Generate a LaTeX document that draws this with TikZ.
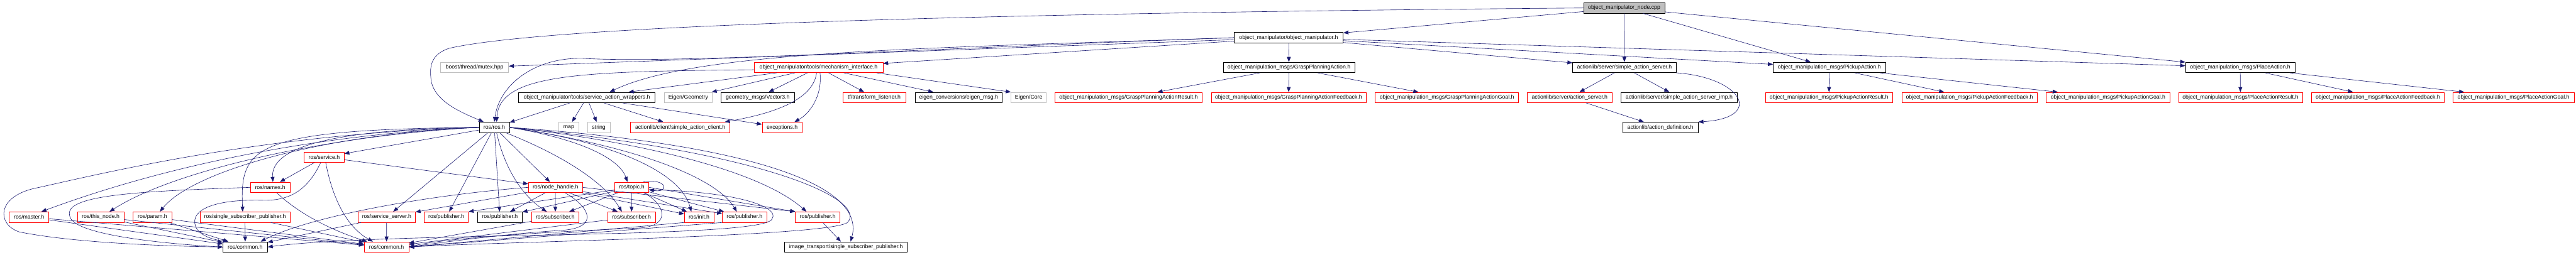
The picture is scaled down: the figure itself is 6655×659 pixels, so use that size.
\documentclass[tikz,border=0pt]{standalone}
\usepackage{fontspec}
\newfontfamily\hdrfont{Liberation Sans}
\usetikzlibrary{arrows.meta}
\definecolor{edgeblue}{HTML}{191970}
\definecolor{greyline}{HTML}{BFBFBF}
\definecolor{truncred}{HTML}{FF0000}
\tikzset{
  file/.style={draw=black, rectangle, line width=1.1pt, inner sep=0pt, minimum height=27pt,
    font=\hdrfont\fontsize{14.2pt}{17pt}\selectfont},
  trunc/.style={file, draw=truncred},
  sysfile/.style={file, draw=greyline},
  rootfile/.style={file, fill=greyline},
  dep/.style={draw=edgeblue, line width=1pt, -{Triangle[length=13pt,width=10pt]}}
}
\begin{document}
\begin{tikzpicture}[x=1pt,y=-1pt]
\useasboundingbox (0,0) rectangle (6655,659);
% top
\node[rootfile, minimum width=210pt] (main) at (4196,20.6) {object\_manipulator\_node.cpp};
\node[file, minimum width=282pt] (om) at (3329,97.5) {object\_manipulator/object\_manipulator.h};
% second level
\node[sysfile, minimum width=176pt] (mutex) at (1226,174.4) {boost/thread/mutex.hpp};
\node[trunc, minimum width=333pt] (mech) at (2114.5,174.4) {object\_manipulator/tools/mechanism\_interface.h};
\node[file, minimum width=340pt] (gpa) at (3330,174.4) {object\_manipulation\_msgs/GraspPlanningAction.h};
\node[file, minimum width=267pt] (sas) at (4196.5,174.4) {actionlib/server/simple\_action\_server.h};
\node[file, minimum width=290pt] (pua) at (4726,174.4) {object\_manipulation\_msgs/PickupAction.h};
\node[file, minimum width=283pt] (pla) at (5787.5,174.4) {object\_manipulation\_msgs/PlaceAction.h};
% third level
\node[file, minimum width=352pt] (saw) at (1516,252.2) {object\_manipulator/tools/service\_action\_wrappers.h};
\node[sysfile, minimum width=124pt] (eggeo) at (1778,252.2) {Eigen/Geometry};
\node[file, minimum width=191pt] (vec3) at (1957.5,252.2) {geometry\_msgs/Vector3.h};
\node[trunc, minimum width=163pt] (tfl) at (2258.5,252.2) {tf/transform\_listener.h};
\node[file, minimum width=225pt] (eigmsg) at (2476.5,252.2) {eigen\_conversions/eigen\_msg.h};
\node[sysfile, minimum width=91pt] (egcore) at (2657.5,252.2) {Eigen/Core};
\node[trunc, minimum width=379pt] (gpar) at (2915.5,252.2) {object\_manipulation\_msgs/GraspPlanningActionResult.h};
\node[trunc, minimum width=400pt] (gpaf) at (3329,252.2) {object\_manipulation\_msgs/GraspPlanningActionFeedback.h};
\node[trunc, minimum width=370pt] (gpag) at (3738,252.2) {object\_manipulation\_msgs/GraspPlanningActionGoal.h};
\node[trunc, minimum width=220pt] (as) at (4055,252.2) {actionlib/server/action\_server.h};
\node[file, minimum width=300pt] (sasi) at (4338,252.2) {actionlib/server/simple\_action\_server\_imp.h};
\node[trunc, minimum width=328pt] (puar) at (4725,252.2) {object\_manipulation\_msgs/PickupActionResult.h};
\node[trunc, minimum width=350pt] (puaf) at (5088,252.2) {object\_manipulation\_msgs/PickupActionFeedback.h};
\node[trunc, minimum width=320pt] (puag) at (5446,252.2) {object\_manipulation\_msgs/PickupActionGoal.h};
\node[trunc, minimum width=320pt] (plar) at (5788,252.2) {object\_manipulation\_msgs/PlaceActionResult.h};
\node[trunc, minimum width=344pt] (plaf) at (6143,252.2) {object\_manipulation\_msgs/PlaceActionFeedback.h};
\node[trunc, minimum width=313pt] (plag) at (6493.5,252.2) {object\_manipulation\_msgs/PlaceActionGoal.h};
% fourth level
\node[file, minimum width=78pt] (rosh) at (1277,329.5) {ros/ros.h};
\node[sysfile, minimum width=51pt] (map) at (1469.5,329.5) {map};
\node[sysfile, minimum width=58pt] (string) at (1547,329.5) {string};
\node[trunc, minimum width=257pt] (sac) at (1757.5,329.5) {actionlib/client/simple\_action\_client.h};
\node[trunc, minimum width=103pt] (exc) at (2020.5,329.5) {exceptions.h};
\node[file, minimum width=195pt] (sdef) at (4289.5,329.5) {actionlib/action\_definition.h};
% ros headers
\node[trunc, minimum width=103pt] (srv) at (837.5,406.5) {ros/service.h};
\node[trunc, minimum width=102pt] (names) at (698,484.7) {ros/names.h};
\node[trunc, minimum width=140pt] (nh) at (1435,484.7) {ros/node\_handle.h};
\node[trunc, minimum width=88pt] (topic) at (1632,484.7) {ros/topic.h};
\node[trunc, minimum width=102pt] (master) at (75,561.6) {ros/master.h};
\node[trunc, minimum width=120pt] (thisnode) at (260,561.6) {ros/this\_node.h};
\node[trunc, minimum width=100pt] (param) at (394,561.6) {ros/param.h};
\node[trunc, minimum width=232pt] (ssp) at (633,561.6) {ros/single\_subscriber\_publisher.h};
\node[trunc, minimum width=148pt] (ssrv) at (999,561.6) {ros/service\_server.h};
\node[trunc, minimum width=114pt] (pubA) at (1153,561.6) {ros/publisher.h};
\node[file, minimum width=115pt] (pubB) at (1291.5,561.6) {ros/publisher.h};
\node[trunc, minimum width=123pt] (subA) at (1434.5,561.6) {ros/subscriber.h};
\node[trunc, minimum width=123pt] (subB) at (1631.5,561.6) {ros/subscriber.h};
\node[trunc, minimum width=76pt] (init) at (1806,561.6) {ros/init.h};
\node[trunc, minimum width=115pt] (pubC) at (1923.5,561.6) {ros/publisher.h};
\node[trunc, minimum width=115pt] (pubD) at (2112.5,561.6) {ros/publisher.h};
\node[file, minimum width=115pt] (commonA) at (633.5,639) {ros/common.h};
\node[trunc, minimum width=115pt] (commonB) at (998.5,639) {ros/common.h};
\node[file, minimum width=317pt] (itssp) at (2185.5,639) {image\_transport/single\_subscriber\_publisher.h};

% includes of the node file
\draw[dep] (main) -- (om);
\draw[dep] (main.west) .. controls (2400,35) and (1400,70) .. (1160,125) .. controls (1115,140) and (1110,170) .. (1113,200) .. controls (1116,260) and (1190,290) .. ([xshift=12pt]rosh.north west);
\draw[dep] (main) -- (sas);
\draw[dep] (main) -- (pua);
\draw[dep] (main) -- (pla);
% object_manipulator.h
\draw[dep] (om) -- (gpa);
\draw[dep] (om) -- (sas);
\draw[dep] (om) -- (pua);
\draw[dep] (om) -- (pla);
\draw[dep] (om) -- (mech);
\draw[dep] (om) -- (mutex);
\draw[dep] (om.west) .. controls (2400,125) and (1750,165) .. (1506,151) .. controls (1380,148) and (1290,220) .. (rosh.north);
\draw[dep] (om.west) .. controls (2400,125) and (1800,130) .. ([xshift=59pt]saw.north);
% mechanism_interface.h
\draw[dep] (mech) -- (saw);
\draw[dep] ([yshift=-6pt]mech.west) .. controls (1500,185) and (1290,190) .. ([xshift=6pt]rosh.north);
\draw[dep] (mech) -- (eggeo);
\draw[dep] (mech) -- (vec3);
\draw[dep] ([xshift=-5pt]mech.south) .. controls (2100,270) and (1960,300) .. ([xshift=115pt]sac.north);
\draw[dep] ([xshift=4pt]mech.south) .. controls (2125,250) and (2090,295) .. ([xshift=32pt]exc.north);
\draw[dep] (mech) -- (tfl);
\draw[dep] (mech) -- (eigmsg);
\draw[dep] ([xshift=150pt]mech.south) -- (egcore.north west);
% service_action_wrappers.h
\draw[dep] (saw) -- (rosh);
\draw[dep] (saw) -- (map);
\draw[dep] (saw) -- (string);
\draw[dep] (saw) -- (sac);
\draw[dep] (saw) -- (exc);
% action headers
\draw[dep] (gpa) -- (gpar);
\draw[dep] (gpa) -- (gpaf);
\draw[dep] (gpa) -- (gpag);
\draw[dep] (sas) -- (as);
\draw[dep] (sas) -- (sasi);
\draw[dep] (sas.south east) .. controls (4500,200) and (4560,305) .. (sdef.north east);
\draw[dep] (as) -- (sdef);
\draw[dep] (pua) -- (puar);
\draw[dep] (pua) -- (puaf);
\draw[dep] (pua) -- (puag);
\draw[dep] (pla) -- (plar);
\draw[dep] (pla) -- (plaf);
\draw[dep] (pla) -- (plag);
% ros/ros.h
\draw[dep] (rosh) -- (srv);
\draw[dep] (rosh.west) .. controls (820,335) and (700,390) .. ([xshift=7pt]names.north);
\draw[dep] (rosh.west) .. controls (650,335) and (620,380) .. ([xshift=-6pt]ssp.north);
\draw[dep] (rosh.west) .. controls (850,345) and (450,420) .. ([xshift=32pt]master.north);
\draw[dep] (rosh.west) .. controls (850,350) and (450,440) .. ([xshift=23pt]thisnode.north);
\draw[dep] (rosh.west) .. controls (850,345) and (500,440) .. ([xshift=19pt]param.north);
\draw[dep] (rosh.west) .. controls (700,345) and (300,440) .. (100,485) .. controls (-10,505) and (-10,580) .. (50,600) .. controls (200,630) and (450,637) .. (commonA.west);
\draw[dep] (rosh) -- (ssrv);
\draw[dep] (rosh) -- (pubA);
\draw[dep] (rosh) -- (pubB);
\draw[dep] ([xshift=6pt]rosh.south) .. controls (1300,420) and (1340,500) .. ([xshift=-22pt]subA.north);
\draw[dep] (rosh) -- (nh);
\draw[dep] ([xshift=30pt]rosh.south) .. controls (1450,400) and (1560,470) .. ([xshift=-25pt]subB.north);
\draw[dep] (rosh.east) .. controls (1500,360) and (1600,410) .. ([xshift=-11pt]topic.north);
\draw[dep] (rosh.east) .. controls (1600,370) and (1760,450) .. ([xshift=-20pt]init.north);
\draw[dep] (rosh.east) .. controls (1650,380) and (1850,460) .. ([xshift=-20pt]pubC.north);
\draw[dep] (rosh.east) .. controls (1600,360) and (1950,430) .. ([xshift=-29pt]pubD.north);
\draw[dep] (rosh.east) .. controls (1900,370) and (2240,470) .. ([xshift=12pt]itssp.north);
\draw[dep] (rosh.east) .. controls (2000,395) and (2240,520) .. (2190,575) .. controls (2150,612) and (1300,625) .. (commonB.east);
% ros/service.h and ros/names.h
\draw[dep] (srv) -- (names);
\draw[dep] (srv) -- (nh);
\draw[dep] ([xshift=-9pt]srv.south) .. controls (800,480) and (760,520) .. (680,518) .. controls (560,515) and (490,540) .. (505,585) .. controls (515,610) and (550,620) .. ([xshift=-45pt]commonA.north);
\draw[dep] ([xshift=4pt]srv.south) .. controls (860,520) and (900,590) .. ([xshift=-35pt]commonB.north);
\draw[dep] (names.west) .. controls (350,495) and (165,505) .. (180,558) .. controls (185,610) and (450,632) .. (commonA.west);
\draw[dep] ([xshift=17pt]names.south) .. controls (780,560) and (870,600) .. ([xshift=-50pt]commonB.north);
% down to ros/common.h
\draw[dep] (master) -- (commonA);
\draw[dep] (master) -- (commonB);
\draw[dep] (thisnode) -- (commonA);
\draw[dep] (thisnode) -- (commonB);
\draw[dep] (param) -- (commonA);
\draw[dep] (param) -- (commonB);
\draw[dep] (ssp) -- (commonA);
\draw[dep] (ssp) -- (commonB);
\draw[dep] (ssrv) -- (commonB);
\draw[dep] (ssrv) -- (commonA);
% ros/node_handle.h
\draw[dep] (nh.west) .. controls (1100,505) and (800,560) .. ([xshift=40pt]commonA.north);
\draw[dep] (nh) -- (ssrv);
\draw[dep] (nh) -- (pubB);
\draw[dep] (nh) -- (subA);
\draw[dep] (nh) -- (subB);
\draw[dep] (nh) -- (init);
\draw[dep] (nh) -- (pubC);
\draw[dep] (nh.east) -- (pubD.north west);
\draw[dep] ([xshift=25pt]nh.south) .. controls (1530,540) and (1545,590) .. (1450,596) .. controls (1300,605) and (1120,630) .. (commonB.east);
% ros/topic.h
\draw[dep] ([xshift=30pt]topic.north) .. controls (1725,460) and (1730,500) .. ([yshift=-6pt]topic.east);
\draw[dep] (topic) -- (subA);
\draw[dep] (topic) -- (subB);
\draw[dep] (topic) -- (pubB);
\draw[dep] (topic) -- (pubA.north east);
\draw[dep] (topic) -- (init);
\draw[dep] (topic) -- (pubC);
\draw[dep] (topic.east) -- (pubD.north west);
\draw[dep] ([xshift=32pt]topic.south) .. controls (1720,530) and (1735,585) .. (1650,590) .. controls (1450,598) and (1150,615) .. (commonB.east);
\draw[dep] ([yshift=-6pt]topic.east) .. controls (1900,495) and (2015,535) .. (1995,565) .. controls (1990,620) and (1000,598) .. (commonA.east);
% lowest level
\draw[dep] (subA) -- (commonB);
\draw[dep] (subB) -- (commonB);
\draw[dep] (init.south west) -- (commonB.east);
\draw[dep] (pubC.south west) -- (commonB.east);
\draw[dep] (pubD) -- (itssp);
\end{tikzpicture}
\end{document}
